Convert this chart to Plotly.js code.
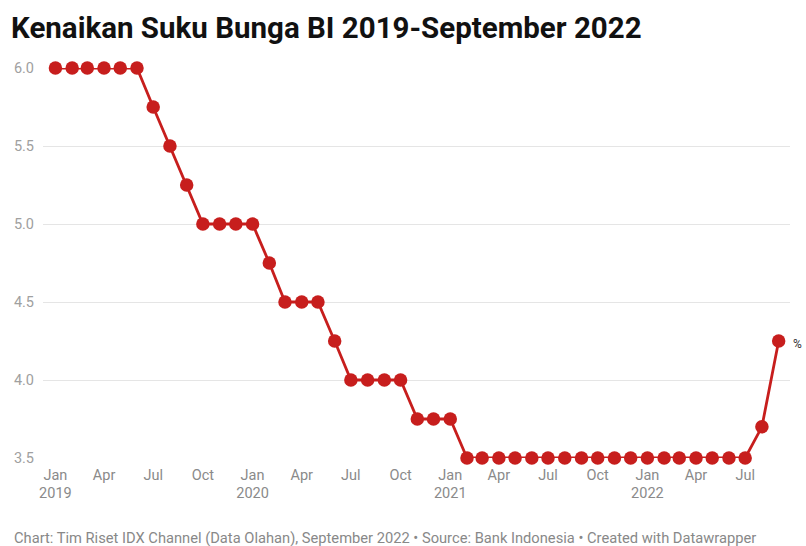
<!DOCTYPE html>
<html>
<head>
<meta charset="utf-8">
<script src="https://cdn.plot.ly/plotly-3.0.1.min.js"></script>
<style>
html,body{margin:0;padding:0;background:#fff;}
#chart{width:806px;height:546px;}
</style>
</head>
<body>
<div id="chart"></div>
<script>
// Monthly dates, Jan 2019 - Sep 2022
const months = [
  "2019-01-01","2019-02-01","2019-03-01","2019-04-01","2019-05-01","2019-06-01",
  "2019-07-01","2019-08-01","2019-09-01","2019-10-01","2019-11-01","2019-12-01",
  "2020-01-01","2020-02-01","2020-03-01","2020-04-01","2020-05-01","2020-06-01",
  "2020-07-01","2020-08-01","2020-09-01","2020-10-01","2020-11-01","2020-12-01",
  "2021-01-01","2021-02-01","2021-03-01","2021-04-01","2021-05-01","2021-06-01",
  "2021-07-01","2021-08-01","2021-09-01","2021-10-01","2021-11-01","2021-12-01",
  "2022-01-01","2022-02-01","2022-03-01","2022-04-01","2022-05-01","2022-06-01",
  "2022-07-01","2022-08-01","2022-09-01"
];
// BI rate (%)
const rates = [
  6.00,6.00,6.00,6.00,6.00,6.00,5.75,5.50,5.25,5.00,5.00,5.00,
  5.00,4.75,4.50,4.50,4.50,4.25,4.00,4.00,4.00,4.00,3.75,3.75,
  3.75,3.50,3.50,3.50,3.50,3.50,3.50,3.50,3.50,3.50,3.50,3.50,
  3.50,3.50,3.50,3.50,3.50,3.50,3.50,3.70,4.25
];
const xTickVals = [
  "2019-01-01","2019-04-01","2019-07-01","2019-10-01",
  "2020-01-01","2020-04-01","2020-07-01","2020-10-01",
  "2021-01-01","2021-04-01","2021-07-01","2021-10-01",
  "2022-01-01","2022-04-01","2022-07-01"
];
const xTickText = [
  "Jan<br>2019","Apr","Jul","Oct",
  "Jan<br>2020","Apr","Jul","Oct",
  "Jan<br>2021","Apr","Jul","Oct",
  "Jan<br>2022","Apr","Jul"
];
const yTickVals = [3.5,4.0,4.5,5.0,5.5,6.0];
const unitLabel = "%";
const titleText = "Kenaikan Suku Bunga BI 2019-September 2022";
const footerText = "Chart: Tim Riset IDX Channel (Data Olahan), September 2022 • Source: Bank Indonesia • Created with Datawrapper";

const red = "#c71e1d";
const trace = {
  x: months, y: rates, type: "scatter", mode: "lines+markers",
  line: {color: red, width: 2.8},
  marker: {color: red, size: 13.5},
  cliponaxis: false,
  hoverinfo: "skip"
};

const W = 806, H = 546;
const M = {l: 43, r: 16, t: 68, b: 88};
const plotW = W - M.l - M.r, plotH = H - M.t - M.b;

const layout = {
  width: W, height: H,
  margin: M,
  paper_bgcolor: "#fff", plot_bgcolor: "#fff",
  font: {family: "Roboto, 'Noto Sans', sans-serif", color: "#888"},
  showlegend: false,
  title: {
    text: "<b>" + titleText + "</b>",
    x: 11/W, xanchor: "left", xref: "container",
    y: 1 - 28/H, yanchor: "middle", yref: "container",
    font: {size: 29.5, color: "#111", family: "Roboto, sans-serif"}
  },
  xaxis: {
    type: "date",
    range: ["2018-12-09", "2022-09-22"],
    tickvals: xTickVals, ticktext: xTickText,
    showgrid: false, zeroline: false, showline: false,
    ticks: "", ticklabelstandoff: 6,
    tickfont: {size: 14.5, color: "#8a8a8a"}
  },
  yaxis: {
    range: [3.5, 6.0],
    tickvals: yTickVals, tickformat: ".1f",
    showgrid: true, gridcolor: "#e5e5e5", gridwidth: 1,
    zeroline: false, showline: false, ticks: "",
    ticklabelstandoff: 8,
    tickfont: {size: 14.5, color: "#a0a0a0"}
  },
  annotations: [
    {
      x: months[months.length-1], y: rates[rates.length-1],
      xref: "x", yref: "y", text: unitLabel, showarrow: false,
      xanchor: "left", yanchor: "middle", xshift: 12, yshift: -3,
      font: {size: 12, color: "#333"}
    },
    {
      x: (12 - M.l) / plotW, xref: "paper",
      y: -(538 - (H - M.b)) / plotH, yref: "paper",
      text: footerText, showarrow: false,
      xanchor: "left", yanchor: "middle",
      font: {size: 14.7, color: "#888"}
    }
  ]
};

Plotly.newPlot("chart", [trace], layout, {displayModeBar: false, staticPlot: true});
</script>
</body>
</html>
